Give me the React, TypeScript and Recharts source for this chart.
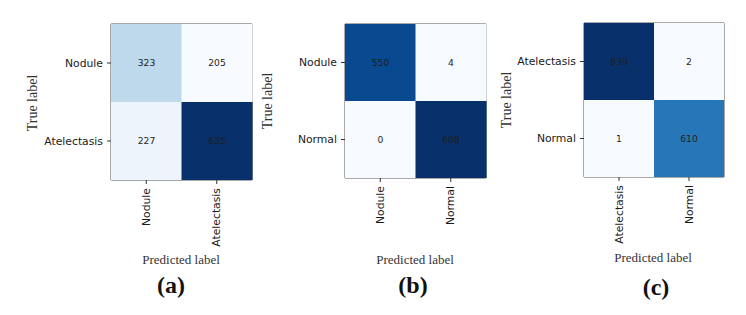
import React from "react";
import { BarChart, Bar, XAxis, YAxis, Cell, LabelList, ReferenceArea } from "recharts";

// confusion matrices: rows = true label, columns = predicted label
const labelsA = ["Nodule", "Atelectasis"];
const countsA = [
  [323, 205],
  [227, 635],
];
const labelsB = ["Nodule", "Normal"];
const countsB = [
  [550, 4],
  [0, 608],
];
const labelsC = ["Atelectasis", "Normal"];
const countsC = [
  [839, 2],
  [1, 610],
];
const captions = ["(a)", "(b)", "(c)"];

// matplotlib "Blues" colormap stops
const BLUES = [
  "#f7fbff",
  "#deebf7",
  "#c6dbef",
  "#9ecae1",
  "#6baed6",
  "#4292c6",
  "#2171b5",
  "#08519c",
  "#08306b",
];

const hex = (s: string) => [1, 3, 5].map((i) => parseInt(s.slice(i, i + 2), 16));

function blues(t: number) {
  const p = Math.max(0, Math.min(1, t)) * (BLUES.length - 1);
  const i = Math.min(Math.floor(p), BLUES.length - 2);
  const f = p - i;
  const a = hex(BLUES[i]);
  const b = hex(BLUES[i + 1]);
  const c = a.map((v, k) => Math.round(v + (b[k] - v) * f));
  return `rgb(${c[0]},${c[1]},${c[2]})`;
}

const SANS = "'DejaVu Sans', sans-serif";
const SERIF = "'Liberation Serif', 'Times New Roman', serif";
const H = 315;
const X_AXIS_H = 70;
const Y_AXIS_W = 80;
const TICK_FS = 10.8;

const layouts = [
  { left: 0, width: 260, top: 24, bottom: 180, plotLeft: 111, plotRight: 252, trueX: 33, trueY: 103, predX: 181, predY: 260, capX: 171, capY: 285 },
  { left: 260, width: 232, top: 24, bottom: 178, plotLeft: 345, plotRight: 486, trueX: 268, trueY: 101, predX: 415, predY: 260, capX: 413, capY: 285 },
  { left: 492, width: 254, top: 23, bottom: 177, plotLeft: 584, plotRight: 724, trueX: 507, trueY: 100, predX: 653, predY: 258, capX: 656, capY: 287 },
];

const RotatedTick = (props: any) => {
  const { x, y, payload } = props;
  return (
    <text
      x={x}
      y={y}
      transform={`rotate(-90 ${x} ${y})`}
      textAnchor="end"
      dominantBaseline="central"
      fontSize={TICK_FS}
      fontFamily={SANS}
      fill="#1a1a1a"
    >
      {payload.value}
    </text>
  );
};

function ConfusionMatrix({
  labels,
  counts,
  caption,
  lay,
}: {
  labels: string[];
  counts: number[][];
  caption: string;
  lay: (typeof layouts)[number];
}) {
  const n = labels.length;
  const flat = counts.flat();
  const lo = Math.min(...flat);
  const hi = Math.max(...flat);
  const norm = (v: number) => (hi === lo ? 0 : (v - lo) / (hi - lo));

  const data = labels.map((pred, j) => {
    const row: Record<string, any> = { pred };
    labels.forEach((_, i) => {
      row[`u${i}`] = 1;
      row[`c${i}`] = counts[i][j];
    });
    return row;
  });

  const rowsBottomUp = labels.map((_, i) => i).reverse();

  return (
    <>
      <div style={{ position: "absolute", left: lay.left, top: 0 }}>
        <BarChart
          width={lay.width}
          height={H}
          data={data}
          barCategoryGap={0}
          margin={{
            top: lay.top,
            bottom: H - lay.bottom - X_AXIS_H,
            left: lay.plotLeft - lay.left - Y_AXIS_W,
            right: lay.left + lay.width - lay.plotRight,
          }}
        >
          <XAxis
            dataKey="pred"
            type="category"
            height={X_AXIS_H}
            interval={0}
            axisLine={false}
            tickLine={{ stroke: "#333" }}
            tickSize={4}
            tickMargin={4}
            tick={<RotatedTick />}
          />
          <YAxis
            type="number"
            domain={[0, n]}
            ticks={labels.map((_, i) => i + 0.5)}
            tickFormatter={(v: number) => labels[n - 1 - Math.floor(v)]}
            width={Y_AXIS_W}
            axisLine={false}
            tickLine={{ stroke: "#333" }}
            tickSize={4}
            tickMargin={4}
            allowDataOverflow
            tick={{ fontSize: TICK_FS, fill: "#1a1a1a", fontFamily: SANS }}
          />
          {rowsBottomUp.map((i) => (
            <Bar key={i} dataKey={`u${i}`} stackId="cm" isAnimationActive={false}>
              {data.map((_, j) => (
                <Cell key={j} fill={blues(norm(counts[i][j]))} />
              ))}
              <LabelList
                dataKey={`c${i}`}
                position="center"
                fill="#1f1f1f"
                fontSize={9.2}
                fontFamily={SANS}
              />
            </Bar>
          ))}
          <ReferenceArea
            y1={0}
            y2={n}
            fill="none"
            fillOpacity={0}
            stroke="#555"
            strokeWidth={1}
            ifOverflow="visible"
          />
        </BarChart>
      </div>
      <div
        style={{
          position: "absolute",
          left: lay.trueX,
          top: lay.trueY,
          transform: "translate(-50%, -50%) rotate(-90deg)",
          whiteSpace: "nowrap",
          fontFamily: SERIF,
          fontSize: 14,
          color: "#333",
        }}
      >
        True label
      </div>
      <div
        style={{
          position: "absolute",
          left: lay.predX,
          top: lay.predY,
          transform: "translate(-50%, -50%)",
          whiteSpace: "nowrap",
          fontFamily: SERIF,
          fontSize: 13,
          color: "#333",
        }}
      >
        Predicted label
      </div>
      <div
        style={{
          position: "absolute",
          left: lay.capX,
          top: lay.capY,
          transform: "translate(-50%, -50%)",
          whiteSpace: "nowrap",
          fontFamily: SERIF,
          fontSize: 24,
          fontWeight: "bold",
          color: "#111",
        }}
      >
        {caption}
      </div>
    </>
  );
}

export default function App() {
  const panels = [
    { labels: labelsA, counts: countsA },
    { labels: labelsB, counts: countsB },
    { labels: labelsC, counts: countsC },
  ];
  return (
    <div
      style={{
        position: "absolute",
        left: 0,
        top: 0,
        width: 746,
        height: H,
        background: "#fff",
        overflow: "hidden",
      }}
    >
      {panels.map((p, k) => (
        <ConfusionMatrix
          key={k}
          labels={p.labels}
          counts={p.counts}
          caption={captions[k]}
          lay={layouts[k]}
        />
      ))}
    </div>
  );
}
